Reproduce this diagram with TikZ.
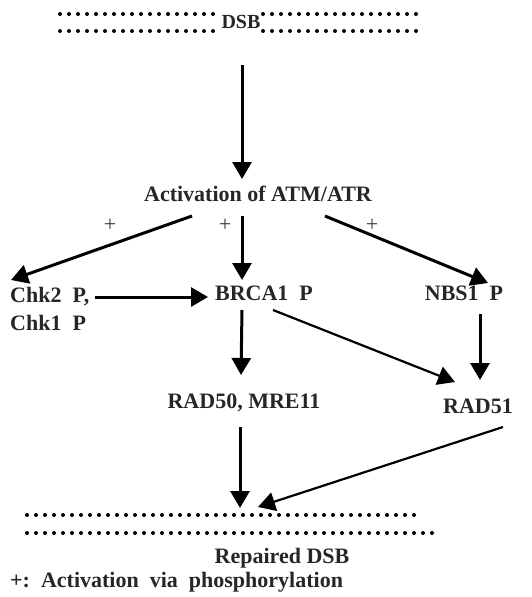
\documentclass[tikz,border=0pt]{standalone}
\usepackage{fontspec}
\setmainfont{Liberation Serif}
\usetikzlibrary{arrows.meta,calc}
\definecolor{txt}{HTML}{262626}
\definecolor{plusc}{HTML}{3A3A3A}
\newcommand{\wsp}{\hspace{11pt}}
\tikzset{
  lbl/.style={font=\fontsize{22}{28}\selectfont\bfseries, text=txt, inner sep=0pt, text height=15pt, text depth=4pt},
  plus/.style={font=\fontsize{22}{24}\selectfont, text=plusc, inner sep=0pt},
  arr/.style={line width=3pt, -{Triangle[length=17pt,width=19pt]}},
  thinarr/.style={line width=2.2pt, -{Triangle[length=17pt,width=19pt]}},
  dotline/.style={line width=4pt, line cap=round, dash pattern=on 0pt off 9pt}
}
\begin{document}
\begin{tikzpicture}[x=1pt,y=-1pt]
\useasboundingbox (0,0) rectangle (531,597);
% DNA strands (top)
\draw[dotline] (60,14) -- (219,14);
\draw[dotline] (263,14) -- (423,14);
\draw[dotline] (60,31) -- (219,31);
\draw[dotline] (263,31) -- (423,31);
\node[font=\fontsize{20}{22}\selectfont\bfseries, text=txt, inner sep=0pt] (dsb) at (241,22) {DSB};
% nodes
\node[lbl] (act) at (258,196) {Activation of ATM/ATR};
\node[lbl, align=left, anchor=west, text height=, text depth=] (chk) at (10,309) {Chk2\wsp P,\\Chk1\wsp P};
\node[lbl] (brca) at (264,295) {BRCA1\wsp P};
\node[lbl] (nbs) at (464,295) {NBS1\wsp P};
\node[lbl] (rad50) at (244,403) {RAD50, MRE11};
\node[lbl] (rad51) at (478,408) {RAD51};
\node[lbl] (rep) at (282,558) {Repaired DSB};
\node[lbl, anchor=west] (legend) at (10,582) {+:\wsp Activation\wsp via\wsp phosphorylation};
\node[plus] (p1) at (110,225) {+};
\node[plus] (p2) at (225,225) {+};
\node[plus] (p3) at (372,225) {+};
% arrows
\draw[arr] ($(dsb)+(1,43)$) -- ($(act)+(-16,-17)$);
\draw[arr] ($(act)+(-66,20)$) -- ($(chk.west)+(1,-29)$);
\draw[arr] ($(act)+(-16,20)$) -- ($(brca)+(-22,-15)$);
\draw[arr] ($(act)+(67,20)$) -- ($(nbs)+(24,-12)$);
\draw[arr] ($(chk.west)+(85,-12)$) -- ($(brca)+(-56,2)$);
\draw[arr] ($(brca)+(-22,15)$) -- ($(rad50)+(-3,-28)$);
\draw[thinarr] ($(brca)+(9,15)$) -- ($(rad51)+(-23,-26)$);
\draw[arr] ($(nbs)+(16,19)$) -- ($(rad51)+(2,-28)$);
\draw[arr] ($(rad50)+(-4,24)$) -- ($(rep)+(-42,-50)$);
\draw[thinarr] ($(rad51)+(25,19)$) -- ($(rep)+(-24,-51)$);
% DNA strands (bottom)
\draw[dotline] (27,515) -- (416,515);
\draw[dotline] (27,533) -- (436,533);
\end{tikzpicture}
\end{document}
